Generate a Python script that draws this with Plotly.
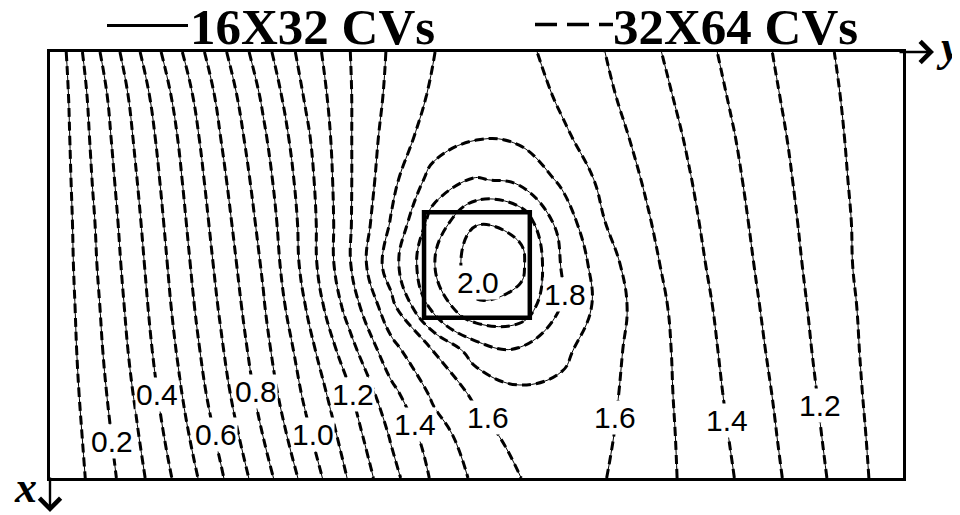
import plotly.graph_objects as go

# horizontal coordinate (the "y" direction of the cavity), 0..2
Y_POS = [0.0, 0.1, 0.2, 0.3, 0.4, 0.5, 0.6, 0.7, 0.8, 0.9, 1.0,
         1.1, 1.2, 1.3, 1.4, 1.5, 1.6, 1.7, 1.8, 1.9, 2.0]
# vertical coordinate (the "x" direction, pointing down), 0..1
X_POS = [0.0, 0.1, 0.2, 0.3, 0.4, 0.5, 0.6, 0.7, 0.8, 0.9, 1.0]

# temperature field (rows follow X_POS, columns follow Y_POS)
T_ROW_00 = [0.0, 0.263, 0.477, 0.680, 0.873, 1.063, 1.245, 1.395, 1.515, 1.598, 1.668, 1.630, 1.559, 1.501, 1.426, 1.349, 1.273, 1.195, 1.121, 1.067, 1.02]
T_ROW_01 = [0.0, 0.231, 0.435, 0.633, 0.829, 1.017, 1.213, 1.390, 1.526, 1.615, 1.676, 1.661, 1.582, 1.519, 1.446, 1.368, 1.289, 1.208, 1.132, 1.071, 1.02]
T_ROW_02 = [0.0, 0.216, 0.411, 0.602, 0.800, 0.984, 1.179, 1.388, 1.548, 1.646, 1.692, 1.683, 1.618, 1.543, 1.468, 1.387, 1.306, 1.222, 1.142, 1.075, 1.02]
T_ROW_03 = [0.0, 0.203, 0.392, 0.581, 0.775, 0.957, 1.156, 1.386, 1.571, 1.741, 1.810, 1.774, 1.685, 1.572, 1.488, 1.404, 1.320, 1.234, 1.151, 1.079, 1.02]
T_ROW_04 = [0.0, 0.190, 0.375, 0.563, 0.753, 0.934, 1.141, 1.385, 1.608, 1.845, 1.995, 1.975, 1.753, 1.602, 1.509, 1.419, 1.333, 1.245, 1.160, 1.084, 1.02]
T_ROW_05 = [0.0, 0.182, 0.360, 0.546, 0.732, 0.912, 1.135, 1.385, 1.657, 1.896, 2.060, 2.030, 1.793, 1.642, 1.529, 1.433, 1.345, 1.256, 1.168, 1.085, 1.02]
T_ROW_06 = [0.0, 0.170, 0.345, 0.529, 0.711, 0.891, 1.101, 1.336, 1.567, 1.831, 1.985, 1.965, 1.793, 1.659, 1.548, 1.449, 1.358, 1.268, 1.178, 1.093, 1.02]
T_ROW_07 = [0.0, 0.160, 0.329, 0.508, 0.687, 0.867, 1.055, 1.258, 1.467, 1.604, 1.751, 1.789, 1.723, 1.636, 1.552, 1.460, 1.369, 1.280, 1.187, 1.098, 1.02]
T_ROW_08 = [0.0, 0.147, 0.309, 0.484, 0.660, 0.839, 1.020, 1.187, 1.372, 1.522, 1.623, 1.680, 1.677, 1.626, 1.549, 1.468, 1.380, 1.293, 1.198, 1.104, 1.02]
T_ROW_09 = [0.0, 0.133, 0.286, 0.456, 0.624, 0.802, 0.979, 1.146, 1.310, 1.453, 1.559, 1.638, 1.659, 1.615, 1.547, 1.476, 1.392, 1.304, 1.209, 1.112, 1.02]
T_ROW_10 = [0.0, 0.121, 0.263, 0.423, 0.587, 0.758, 0.933, 1.106, 1.267, 1.416, 1.521, 1.598, 1.640, 1.603, 1.545, 1.481, 1.404, 1.316, 1.222, 1.120, 1.02]

# heat source square: [y_start, y_end, x_start, x_end]
HEATER = [0.877, 1.125, 0.376, 0.624]

# contour labels: text, y position, x position
LABEL_TEXT = ["0.2", "0.4", "0.6", "0.8", "1.0", "1.2", "1.4", "1.6", "1.6", "1.4", "1.2", "2.0", "1.8"]
LABEL_Y = [0.145, 0.251, 0.389, 0.483, 0.617, 0.710, 0.856, 1.027, 1.325, 1.587, 1.805, 1.004, 1.207]
LABEL_X = [0.915, 0.805, 0.899, 0.798, 0.899, 0.805, 0.875, 0.859, 0.857, 0.864, 0.829, 0.542, 0.570]

SERIES_NAMES = ["16X32 CVs", "32X64 CVs"]

T = [T_ROW_00, T_ROW_01, T_ROW_02, T_ROW_03, T_ROW_04, T_ROW_05,
     T_ROW_06, T_ROW_07, T_ROW_08, T_ROW_09, T_ROW_10]

levels = dict(start=0.1, end=2.05, size=0.1, coloring="none", showlabels=False)

fig = go.Figure()
fig.add_trace(go.Contour(
    x=Y_POS, y=X_POS, z=T, contours=levels,
    line=dict(color="black", width=1, smoothing=1.2),
    showscale=False, hoverinfo="skip", name=SERIES_NAMES[0]))
fig.add_trace(go.Contour(
    x=Y_POS, y=X_POS, z=T, contours=levels,
    line=dict(color="black", width=3, dash="9px,5px", smoothing=1.2),
    showscale=False, hoverinfo="skip", name=SERIES_NAMES[1]))

# heat source
fig.add_shape(type="rect", xref="x", yref="y",
              x0=HEATER[0], x1=HEATER[1], y0=HEATER[2], y1=HEATER[3],
              line=dict(color="black", width=4.5))

# contour labels
for txt, yy, xx in zip(LABEL_TEXT, LABEL_Y, LABEL_X):
    fig.add_annotation(x=yy, y=xx, xref="x", yref="y", text=txt, showarrow=False,
                       font=dict(family="Liberation Sans, Arial", size=30, color="black"),
                       bgcolor="white", borderpad=0)

serif = "Liberation Serif, Times New Roman"


def px_x(p):
    # horizontal page pixel -> paper coordinate
    return (p - 50) / 853


def px_y(p):
    # vertical page pixel -> paper coordinate
    return (478 - p) / 426


# legend texts (title row)
fig.add_annotation(x=px_x(188), y=px_y(27.5), xref="paper", yref="paper", xanchor="left", yanchor="middle",
                   text="<b>" + SERIES_NAMES[0] + "</b>", showarrow=False,
                   font=dict(family=serif, size=51, color="black"))
fig.add_annotation(x=px_x(611), y=px_y(27.5), xref="paper", yref="paper", xanchor="left", yanchor="middle",
                   text="<b>" + SERIES_NAMES[1] + "</b>", showarrow=False,
                   font=dict(family=serif, size=51, color="black"))
fig.add_shape(type="line", xref="paper", yref="paper",
              x0=px_x(107), x1=px_x(188), y0=px_y(25.5), y1=px_y(25.5),
              line=dict(color="black", width=3))
fig.add_shape(type="line", xref="paper", yref="paper",
              x0=px_x(535), x1=px_x(613), y0=px_y(24.5), y1=px_y(24.5),
              line=dict(color="black", width=3.5, dash="22px,10px"))

# axis arrows
fig.add_annotation(x=px_x(934), y=1.0, xref="paper", yref="paper", ax=-36, ay=0,
                   showarrow=True, arrowhead=4, arrowwidth=2.4, arrowsize=1.7, arrowcolor="black", text="")
fig.add_annotation(x=0.0, y=px_y(512), xref="paper", yref="paper", ax=0, ay=-36,
                   showarrow=True, arrowhead=4, arrowwidth=2.4, arrowsize=1.7, arrowcolor="black", text="")
fig.add_annotation(x=px_x(934), y=px_y(46), xref="paper", yref="paper",
                   xanchor="left", yanchor="middle", showarrow=False,
                   text="<b><i>y</i></b>", font=dict(family=serif, size=44, color="black"))
fig.add_annotation(x=px_x(12), y=px_y(488), xref="paper", yref="paper",
                   xanchor="left", yanchor="middle", showarrow=False,
                   text="<b><i>x</i></b>", font=dict(family=serif, size=44, color="black"))

axis_common = dict(showgrid=False, zeroline=False, showticklabels=False, ticks="",
                   showline=True, linecolor="black", linewidth=3, mirror=True)
# the page body adds an 8 px margin, so the figure is laid out 8 px smaller/shifted
fig.update_layout(
    width=952, height=507,
    margin=dict(l=42, r=57, t=44, b=37),
    paper_bgcolor="white", plot_bgcolor="white",
    showlegend=False,
    xaxis=dict(range=[0, 2], **axis_common),
    yaxis=dict(range=[1, 0], **axis_common),
)

fig.write_html("out.html")
